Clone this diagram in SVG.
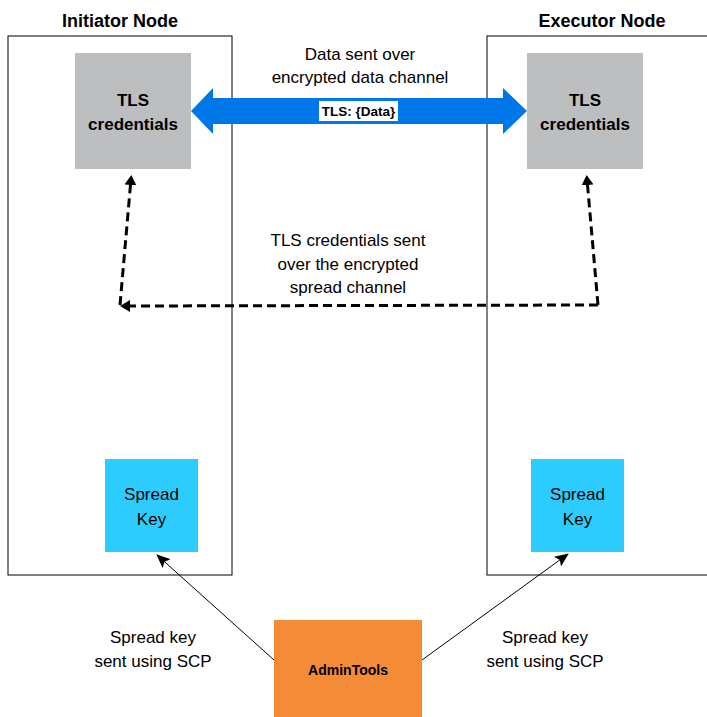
<svg xmlns="http://www.w3.org/2000/svg" width="707" height="717" viewBox="0 0 707 717">
<style>
text{font-family:"Liberation Sans",Arial,sans-serif;fill:#000;text-anchor:middle}
.t{font-size:17px}
.b{font-weight:bold}
.frame{fill:#fff;stroke:#000;stroke-width:1}
.tls{fill:#BDBEC0}
.key{fill:#2CCDFE}
.dash{fill:none;stroke:#000;stroke-width:3;stroke-dasharray:9 5}
.thin{fill:none;stroke:#000;stroke-width:1}
</style>
<defs>
<marker id="ah" markerWidth="12" markerHeight="12" refX="6" refY="6" orient="auto" markerUnits="userSpaceOnUse">
<path d="M0,0 L10,6 L0,12 Z" fill="#000"/>
</marker>
<marker id="ahs" markerWidth="14" markerHeight="12" refX="13" refY="6" orient="auto" markerUnits="userSpaceOnUse">
<path d="M0,0 L14,6 L0,12 L3,6 Z" fill="#000"/>
</marker>
</defs>
<g id="initiator-node">
<rect class="frame" x="8" y="36" width="224" height="539"/>
<text class="b" x="120" y="27" style="font-size:18px">Initiator Node</text>
</g>
<g id="executor-node">
<rect class="frame" x="487" y="36" width="240" height="539"/>
<text class="b" x="602" y="27" style="font-size:18px">Executor Node</text>
</g>
<g id="tls-left">
<rect class="tls" x="75" y="53" width="116" height="116"/>
<text class="b" x="133" y="106" style="font-size:17px">TLS</text>
<text class="b" x="133" y="130" style="font-size:17px">credentials</text>
</g>
<g id="tls-right">
<rect class="tls" x="527" y="53" width="116" height="116"/>
<text class="b" x="585" y="106" style="font-size:17px">TLS</text>
<text class="b" x="585" y="130" style="font-size:17px">credentials</text>
</g>
<g id="key-left">
<rect class="key" x="105" y="459" width="93" height="93"/>
<text class="t" x="151.5" y="500">Spread</text>
<text class="t" x="151.5" y="525">Key</text>
</g>
<g id="key-right">
<rect class="key" x="531" y="459" width="93" height="93"/>
<text class="t" x="577.5" y="500">Spread</text>
<text class="t" x="577.5" y="525">Key</text>
</g>
<g id="admintools">
<rect x="274" y="620" width="148" height="100" fill="#F38B37"/>
<text class="b" x="348" y="675" style="font-size:14px">AdminTools</text>
</g>
<g id="connectors">
<path d="M191,111 L213,88 L213,98 L503,98 L503,88 L527,111 L503,134 L503,124 L213,124 L213,134 Z" fill="#0077E8"/>
<rect x="319" y="101" width="79" height="20" fill="#fff"/>
<text class="b" x="358.5" y="116" style="font-size:13.5px">TLS: {Data}</text>
<path class="dash" d="M598,305 L587,179" marker-end="url(#ah)"/>
<path class="dash" d="M120,305 L131,179" marker-end="url(#ah)"/>
<path class="dash" d="M598,305 L124,306" marker-end="url(#ah)"/>
<path class="thin" d="M274,660 L157,555" marker-end="url(#ahs)"/>
<path class="thin" d="M422,660 L568,554" marker-end="url(#ahs)"/>
</g>
<g id="labels">
<text class="t" x="360" y="60">Data sent over</text>
<text class="t" x="360" y="83">encrypted data channel</text>
<text class="t" x="348" y="246">TLS credentials sent</text>
<text class="t" x="348" y="270">over the encrypted</text>
<text class="t" x="348" y="293">spread channel</text>
<text class="t" x="153" y="643">Spread key</text>
<text class="t" x="153" y="667">sent using SCP</text>
<text class="t" x="545" y="643">Spread key</text>
<text class="t" x="545" y="667">sent using SCP</text>
</g>
</svg>
